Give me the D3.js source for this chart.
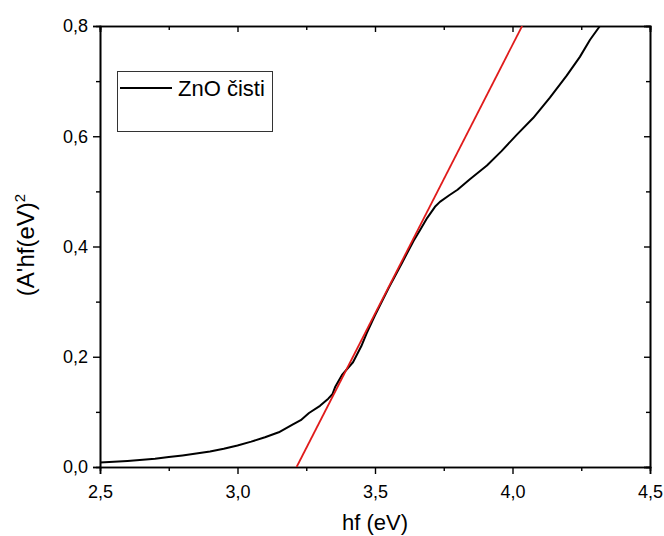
<!DOCTYPE html>
<html><head><meta charset="utf-8">
<script src="https://cdn.jsdelivr.net/npm/d3@7"></script>
<style>body{margin:0;background:#fff}svg{display:block}text{font-family:"Liberation Sans",Arial,sans-serif}</style>
</head><body><svg id="c" width="664" height="536"></svg>
<script>
const energy = [2.5,2.6,2.7,2.75,2.8,2.9,2.95,3.0,3.05,3.1,3.15,3.2,3.23,3.26,3.3,3.33,3.345,3.355,3.38,3.42,3.45,3.47,3.5,3.55,3.6,3.64,3.664,3.69,3.718,3.736,3.77,3.8,3.845,3.907,3.96,4.016,4.075,4.136,4.197,4.245,4.282,4.318];
const absorb = [0.008,0.011,0.015,0.018,0.021,0.028,0.033,0.039,0.046,0.054,0.063,0.077,0.085,0.098,0.111,0.124,0.132,0.145,0.167,0.19,0.219,0.243,0.275,0.325,0.372,0.41,0.43,0.452,0.472,0.481,0.493,0.503,0.522,0.547,0.573,0.603,0.633,0.67,0.71,0.744,0.775,0.80];
const fitX = [3.215, 4.035];
const fitY = [0.0, 0.8];
const xTicks = [2.5,3.0,3.5,4.0,4.5];
const xMinor = [2.75,3.25,3.75,4.25];
const yTicks = [0,0.2,0.4,0.6,0.8];
const yMinor = [0.1,0.3,0.5,0.7];
const seriesName = "ZnO čisti";
const xTitle = "hf (eV)";

const svg = d3.select("#c");
const L=100,R=650,T=26,B=467;
const x = d3.scaleLinear().domain([2.5,4.5]).range([L,R]);
const y = d3.scaleLinear().domain([0,0.8]).range([B,T]);
const fmt = d => d3.format(".1f")(d).replace(".",",");

svg.append("defs").append("clipPath").attr("id","clip").append("rect")
  .attr("x",L).attr("y",T).attr("width",R-L).attr("height",B-T);

function styleAxis(g){ g.select(".domain").attr("stroke","#000").attr("stroke-width",1.6);
  g.selectAll(".tick line").attr("stroke","#000").attr("stroke-width",1.4);
  g.selectAll("text").attr("font-size",18).attr("fill","#000"); }

// bottom
svg.append("g").attr("transform",`translate(0,${B})`)
  .call(d3.axisBottom(x).tickValues(xTicks).tickSize(7).tickPadding(11).tickFormat(fmt)).call(styleAxis);
svg.append("g").attr("transform",`translate(0,${B})`)
  .call(d3.axisBottom(x).tickValues(xMinor).tickSize(4).tickFormat("")).call(styleAxis);
// top
svg.append("g").attr("transform",`translate(0,${T})`)
  .call(d3.axisTop(x).tickValues(xTicks).tickSize(-6).tickFormat("")).call(styleAxis);
svg.append("g").attr("transform",`translate(0,${T})`)
  .call(d3.axisTop(x).tickValues(xMinor).tickSize(-4).tickFormat("")).call(styleAxis);
// left
svg.append("g").attr("transform",`translate(${L},0)`)
  .call(d3.axisLeft(y).tickValues(yTicks).tickSize(7).tickPadding(5).tickFormat(fmt)).call(styleAxis);
svg.append("g").attr("transform",`translate(${L},0)`)
  .call(d3.axisLeft(y).tickValues(yMinor).tickSize(4).tickFormat("")).call(styleAxis);
// right
svg.append("g").attr("transform",`translate(${R},0)`)
  .call(d3.axisRight(y).tickValues(yTicks).tickSize(-6).tickFormat("")).call(styleAxis);
svg.append("g").attr("transform",`translate(${R},0)`)
  .call(d3.axisRight(y).tickValues(yMinor).tickSize(-4).tickFormat("")).call(styleAxis);

const line = d3.line().x(d=>x(d[0])).y(d=>y(d[1]));
const g = svg.append("g").attr("clip-path","url(#clip)");
g.append("path").datum(energy.map((e,i)=>[e,absorb[i]]))
  .attr("d",line).attr("fill","none").attr("stroke","#000").attr("stroke-width",2).attr("stroke-linejoin","round");
g.append("path").datum(fitX.map((e,i)=>[e,fitY[i]]))
  .attr("d",line).attr("fill","none").attr("stroke","#e01b1b").attr("stroke-width",1.8);

// legend
svg.append("rect").attr("x",117.5).attr("y",71.5).attr("width",155).attr("height",60)
  .attr("fill","#fff").attr("stroke","#333").attr("stroke-width",1);
svg.append("line").attr("x1",120).attr("x2",172).attr("y1",88).attr("y2",88).attr("stroke","#000").attr("stroke-width",2.2);
svg.append("text").attr("x",178).attr("y",96).attr("font-size",22).text(seriesName);

// titles
svg.append("text").attr("x",(L+R)/2).attr("y",530).attr("text-anchor","middle").attr("font-size",22).text(xTitle);
const yt = svg.append("text").attr("transform","translate(34,245) rotate(-90)").attr("text-anchor","middle").attr("font-size",24);
yt.append("tspan").text("(A'hf(eV)");
yt.append("tspan").attr("dy",-9).attr("font-size",15).text("2");
</script></body></html>
